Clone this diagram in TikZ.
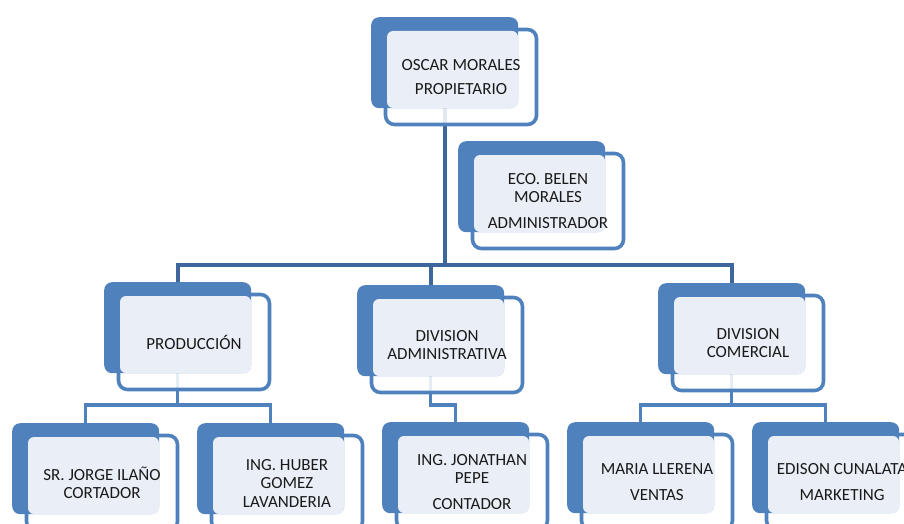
\documentclass[tikz,border=0pt]{standalone}
\usepackage{fontspec}
\setmainfont{Carlito}
\pgfdeclarelayer{background}
\pgfsetlayers{background,main}
\definecolor{cardblue}{HTML}{4F81BD}
\definecolor{cardpale}{HTML}{EAEFF7}
\definecolor{trunkblue}{HTML}{3D679C}
\begin{document}
\begin{tikzpicture}[x=1pt,y=-1pt,
  cardback/.style={fill=cardblue,rounded corners=8pt,minimum width=147pt,minimum height=91pt,inner sep=0pt,anchor=north west},
  cardframe/.style={draw=cardblue,line width=3.6pt,fill=white,fill opacity=0.85,rounded corners=9pt,minimum width=151pt,minimum height=95pt,inner sep=0pt},
  cardtext/.style={align=center,font=\fontsize{17}{18.5}\selectfont,text=black!90},
  lowlink/.style={draw=cardblue,line width=3.5pt},
  trunk/.style={draw=trunkblue,line width=4pt}]
\useasboundingbox (0,0) rectangle (904,524);
% cards: back panel, framed panel, pale face, text
\foreach \x/\y/\n/\t in {371/17/oscar/{OSCAR MORALES\\[5pt]PROPIETARIO},
  458/141/belen/{ECO. BELEN\\MORALES\\[7pt]ADMINISTRADOR},
  104/282/prod/{PRODUCCIÓN},
  357/285/dadm/{DIVISION\\ADMINISTRATIVA},
  658/283/com/{DIVISION\\COMERCIAL},
  12/423/jorge/{SR. JORGE ILAÑO\\CORTADOR},
  197/423/huber/{ING. HUBER\\GOMEZ\\LAVANDERIA},
  382/422/jona/{ING. JONATHAN\\PEPE\\[7pt]CONTADOR},
  567/422/maria/{MARIA LLERENA\\[7pt]VENTAS},
  752/422/edison/{EDISON CUNALATA\\[7pt]MARKETING}}{
  \node[cardframe] (f-\n) at (\x+90,\y+60) {};
  \node[cardback] (\n) at (\x,\y) {};
  \fill[cardpale,rounded corners=6pt] (\x+16,\y+14) rectangle (\x+147,\y+91);
  \node[cardtext] (t-\n) at (f-\n) {\t};
}
\begin{pgfonlayer}{background}
\coordinate (bus) at (0,265);
\coordinate (busl) at (0,405);
\draw[trunk] (oscar.south) -- (oscar.south |- bus);
\draw[trunk] (prod.north) -- (prod.north |- bus) -- (com.north |- bus) -- (com.north);
\draw[trunk] (dadm.north) -- (dadm.north |- bus);
\draw[lowlink] (prod.south) -- (prod.south |- busl);
\draw[lowlink] (jorge.north) -- (jorge.north |- busl) -- (huber.north |- busl) -- (huber.north);
\draw[lowlink] (dadm.south) -- (dadm.south |- busl) -| (jona.north);
\draw[lowlink] (com.south) -- (com.south |- busl);
\draw[lowlink] (maria.north) -- (maria.north |- busl) -- (edison.north |- busl) -- (edison.north);
\end{pgfonlayer}
\end{tikzpicture}
\end{document}
